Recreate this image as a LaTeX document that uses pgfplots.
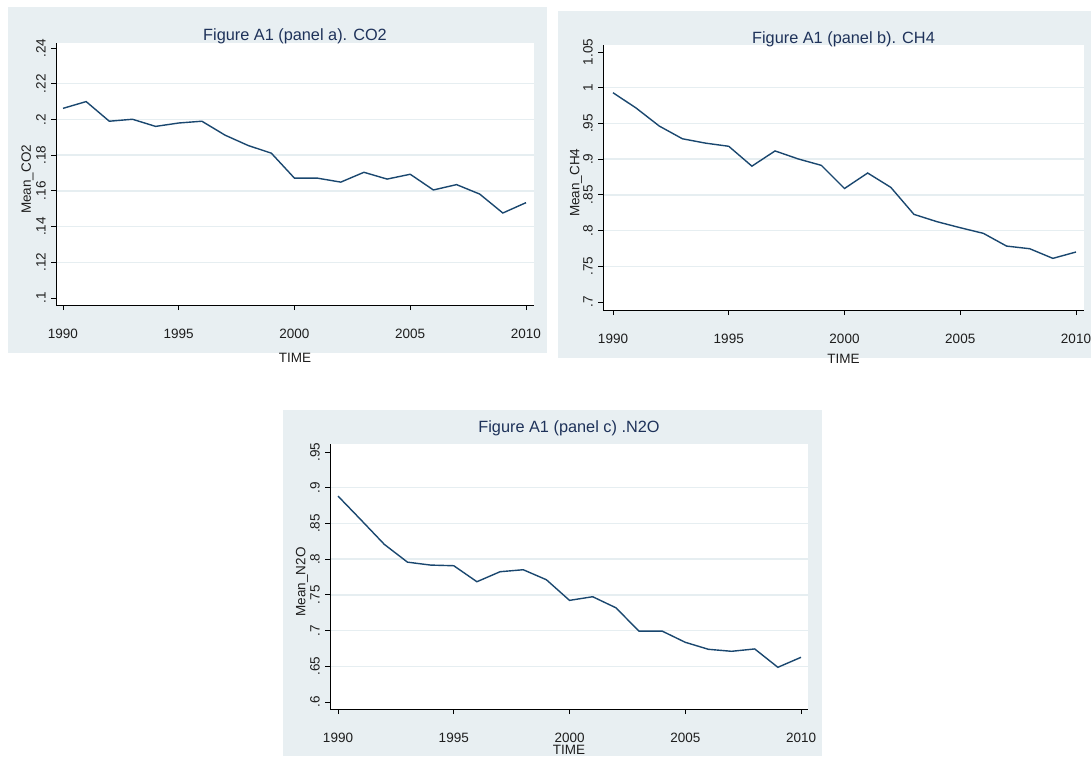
\documentclass[border=0pt]{standalone}
\usepackage{fontspec}
\setmainfont{Liberation Sans}
\usepackage{pgfplots}
\pgfplotsset{compat=1.18}
\definecolor{bgc}{RGB}{232,239,242}
\definecolor{gridc}{RGB}{230,238,241}
\definecolor{linec}{RGB}{26,71,111}
\definecolor{titlec}{RGB}{30,50,90}
\definecolor{txtc}{RGB}{30,30,30}
\pgfplotsset{
  stata/.style={
    scale only axis,
    axis lines=left,
    axis line style={-, black, line width=0.9pt},
    axis background/.style={fill=white},
    tick align=outside,
    major tick length=5pt,
    tick style={black, line width=0.8pt},
    ymajorgrids,
    grid style={gridc, line width=1.4pt},
    extra y tick style={grid=none},
    xtick={1990,1995,2000,2005,2010},
    xticklabels={1990,1995,2000,2005,2010},
    tick label style={font=\fontsize{13.5}{15}\selectfont, text=txtc},
    xticklabel style={anchor=center, yshift=-24pt},
    yticklabel style={xshift=-10pt, rotate=90, anchor=center},
    label style={font=\fontsize{13.5}{15}\selectfont, text=txtc},
    title style={font=\fontsize{16.3}{18}\selectfont, text=titlec, anchor=center},
    xlabel={TIME},
  }
}
\begin{document}
\begin{tikzpicture}
\useasboundingbox (0,0) rectangle (1091pt,-756pt);
\fill[white] (0,0) rectangle (1091pt,-756pt);
\fill[bgc] (8pt,-7pt) rectangle (547pt,-353pt);
\fill[bgc] (558pt,-11pt) rectangle (1091pt,-358pt);
\fill[bgc] (283pt,-410pt) rectangle (822pt,-756pt);

% Panel a
\begin{axis}[stata,
  at={(56pt,-305pt)}, anchor=south west,
  width=478pt, height=262pt,
  xmin=1989.698, xmax=2010.346,
  ymin=0.09608, ymax=0.2428,
  ytick={0.12,0.14,0.16,0.18,0.2,0.22},
  yticklabels={.12,.14,.16,.18,.2,.22},
  extra y ticks={0.1,0.24},
  extra y tick labels={.1,.24},
  title={Figure A1 (panel a). CO2},
  title style={at={(axis description cs:0.5,1)}, yshift=1pt},
  ylabel={Mean\_CO2},
  ylabel style={at={(axis description cs:-0.0596,0.48)}, anchor=center},
  xlabel style={at={(axis description cs:0.5,-0.2023)}, anchor=center},
]
\addplot[linec, line width=1.4pt] coordinates {
(1990,0.2062) (1991,0.2100) (1992,0.1990) (1993,0.2001) (1994,0.1961)
(1995,0.1980) (1996,0.1990) (1997,0.1912) (1998,0.1854) (1999,0.1811)
(2000,0.1671) (2001,0.1671) (2002,0.1649) (2003,0.1704) (2004,0.1666)
(2005,0.1693) (2006,0.1605) (2007,0.1635) (2008,0.1582) (2009,0.1476)
(2010,0.1534)};
\end{axis}

% Panel b
\begin{axis}[stata,
  at={(603pt,-310pt)}, anchor=south west,
  width=481pt, height=265pt,
  xmin=1989.568, xmax=2010.346,
  ymin=0.6888, ymax=1.0598,
  ytick={0.75,0.8,0.85,0.9,0.95,1},
  yticklabels={.75,.8,.85,.9,.95,1},
  extra y ticks={0.7,1.05},
  extra y tick labels={.7,1.05},
  title={Figure A1 (panel b). CH4},
  title style={at={(axis description cs:0.5,1)}, yshift=0pt},
  ylabel={Mean\_CH4},
  ylabel style={at={(axis description cs:-0.0561,0.48)}, anchor=center},
  xlabel style={at={(axis description cs:0.5,-0.185)}, anchor=center},
]
\addplot[linec, line width=1.4pt] coordinates {
(1990,0.9930) (1991,0.9715) (1992,0.9463) (1993,0.9285) (1994,0.9224)
(1995,0.9180) (1996,0.8902) (1997,0.9115) (1998,0.9003) (1999,0.8913)
(2000,0.8589) (2001,0.8806) (2002,0.8605) (2003,0.8227) (2004,0.8124)
(2005,0.8040) (2006,0.7961) (2007,0.7783) (2008,0.7746) (2009,0.7611)
(2010,0.7700)};
\end{axis}

% Panel c
\begin{axis}[stata,
  at={(330pt,-709pt)}, anchor=south west,
  width=478pt, height=265pt,
  xmin=1989.654, xmax=2010.302,
  ymin=0.5902, ymax=0.9612,
  ytick={0.65,0.7,0.75,0.8,0.85,0.9},
  yticklabels={.65,.7,.75,.8,.85,.9},
  extra y ticks={0.6,0.95},
  extra y tick labels={.6,.95},
  title={Figure A1 (panel c) .N2O},
  title style={at={(axis description cs:0.5,1)}, yshift=10pt},
  ylabel={Mean\_N2O},
  ylabel style={at={(axis description cs:-0.0586,0.48)}, anchor=center},
  xlabel style={at={(axis description cs:0.5,-0.155)}, anchor=center},
]
\addplot[linec, line width=1.4pt] coordinates {
(1990,0.8883) (1991,0.8547) (1992,0.8207) (1993,0.7958) (1994,0.7917)
(1995,0.7908) (1996,0.7684) (1997,0.7824) (1998,0.7852) (1999,0.7712)
(2000,0.7423) (2001,0.7474) (2002,0.7320) (2003,0.6993) (2004,0.6993)
(2005,0.6836) (2006,0.6738) (2007,0.6710) (2008,0.6743) (2009,0.6486)
(2010,0.6626)};
\end{axis}
\end{tikzpicture}
\end{document}
